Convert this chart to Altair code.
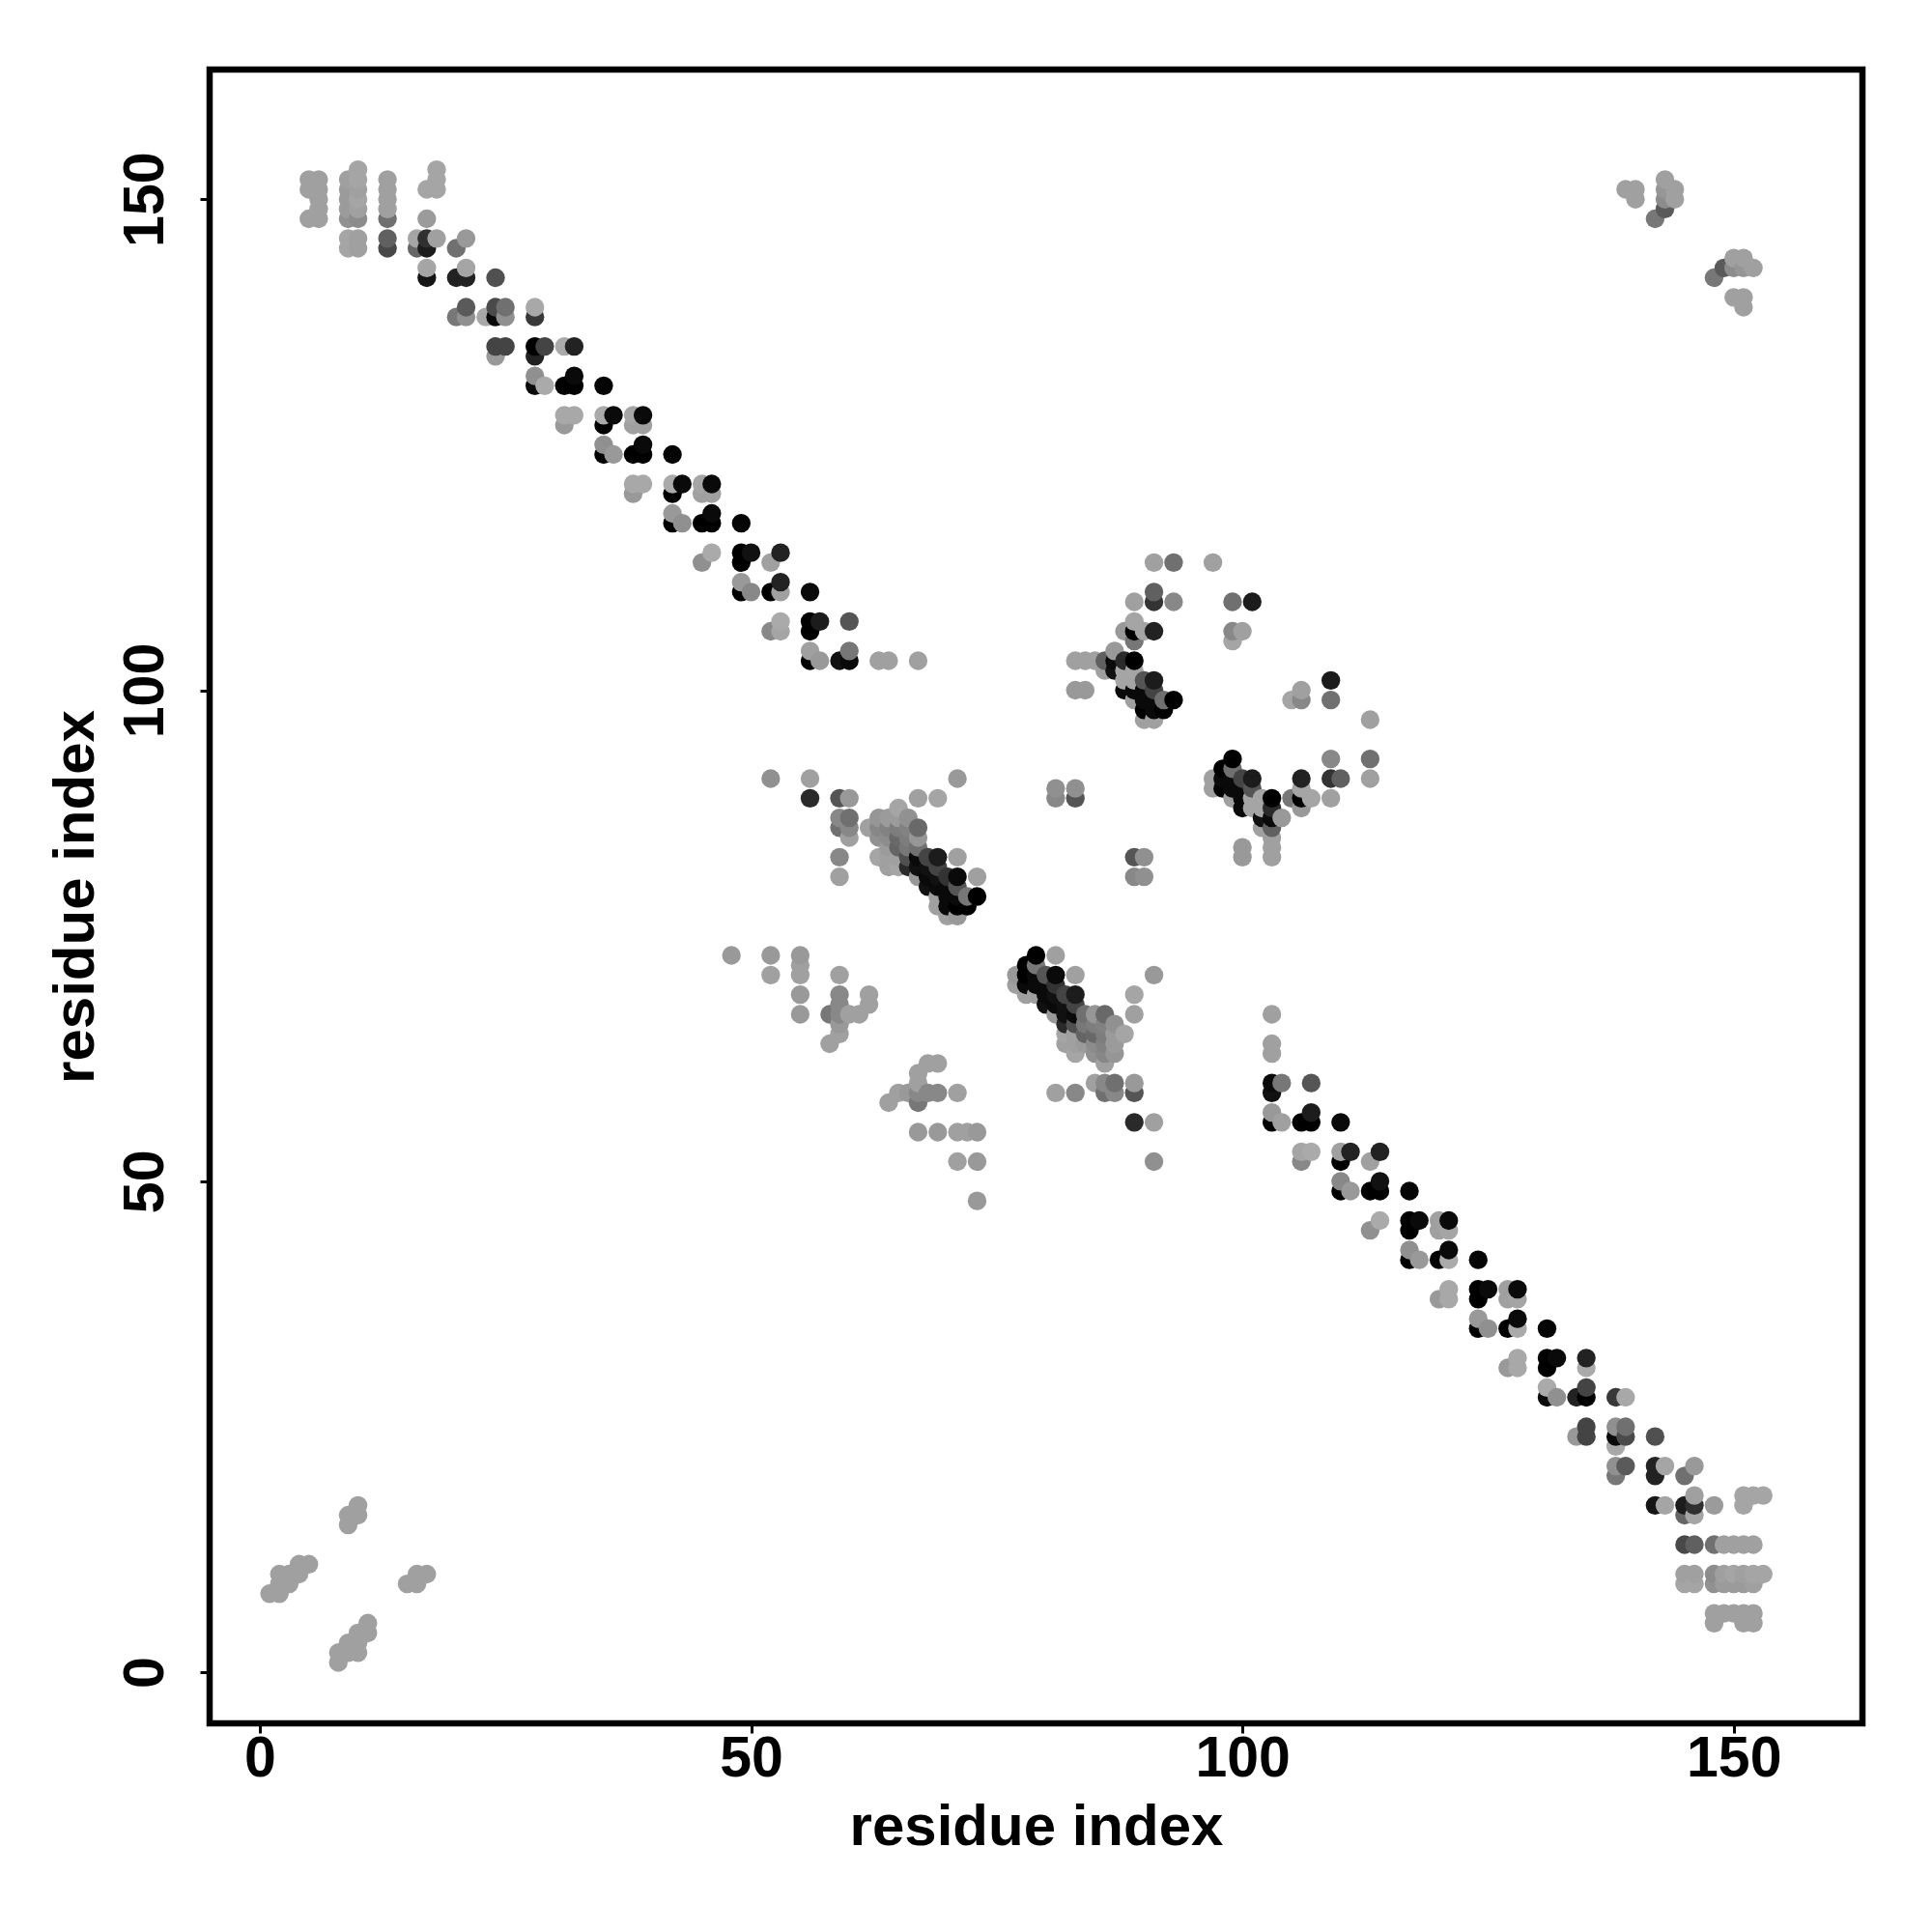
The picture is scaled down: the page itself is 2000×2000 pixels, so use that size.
import altair as alt
import pandas as pd

# (residue i, residue j, grey level 0-255) for i < j; the map is symmetric
corner_far = [
    (5,152,160),(5,151,160),(5,148,160),(6,152,160),(6,151,160),(6,150,160),(6,149,160),(6,148,160),
    (9,152,160),(9,151,155),(9,150,155),(9,149,155),(9,148,145),(9,146,165),(9,145,165),
    (10,153,165),(10,152,165),(10,151,160),(10,150,165),(10,149,160),(10,148,140),(10,146,160),(10,145,160),
    (13,152,160),(13,151,160),(13,150,160),(13,149,160),(13,148,112),(13,146,96),(13,145,72),
    (16,146,165),(16,145,102),(17,151,165),(17,148,155),(17,146,48),(17,145,28),(17,143,165),(17,142,21),
    (18,153,165),(18,152,165),(18,151,165),(18,146,160),
]
band_a = [
    (20,145,112),(20,142,34),(20,138,119),(21,146,153),(21,143,165),(21,142,34),(21,139,90),(21,138,144),
    (23,138,168),(24,142,80),(24,139,74),(24,138,10),(24,135,68),(24,134,153),(25,139,112),(25,138,144),(25,135,68),
    (28,139,168),(28,138,56),(28,135,0),(28,134,34),(28,132,144),(28,131,10),
    (29,135,68),(29,131,170),(31,135,170),(31,131,0),(31,128,168),(31,127,153),
    (32,135,34),(32,132,10),(32,131,0),(32,128,168),
]
band_b = [
    (35,131,5),(35,128,170),(35,127,0),(35,125,144),(35,124,0),(36,128,10),(36,124,153),
    (38,128,165),(38,127,160),(38,124,0),(38,121,168),(38,120,153),(39,128,10),(39,127,160),(39,125,10),(39,124,0),(39,121,168),
    (42,124,5),(42,121,170),(42,120,0),(42,118,153),(42,117,0),(43,121,10),(43,117,144),
    (45,121,165),(45,120,160),(45,117,0),(45,113,144),(46,121,10),(46,120,160),(46,118,10),(46,117,0),(46,114,170),
    (49,117,5),(49,114,0),(49,113,0),(49,111,153),(49,110,0),(50,114,17),(50,110,136),
    (52,113,160),(52,110,0),(52,106,136),(53,114,34),(53,111,34),(53,110,160),(53,107,170),(53,106,165),
    (56,110,10),(56,107,0),(56,106,0),(56,104,160),(56,103,0),(57,107,28),(57,103,153),
    (59,103,17),(60,107,85),(60,104,119),(60,103,10),(63,103,160),(64,103,160),(67,103,160),
]
loop_left = [
    (48,73,153),(52,73,153),(52,71,160),(55,73,153),(55,72,160),(55,71,160),(55,69,153),(55,67,153),
    (58,67,119),(58,64,160),(59,71,160),(59,69,136),(59,68,136),(59,67,136),(59,66,153),(59,65,160),
    (60,67,160),(61,67,160),(62,69,160),(62,68,160),
    (52,91,144),(56,91,160),(56,89,42),(59,89,85),(60,89,153),(59,87,136),(60,87,112),(59,86,112),(60,86,136),(60,85,160),
    (59,83,136),(59,81,160),(67,89,160),(69,89,165),(71,91,153),
]
cluster_mid = [
    (62,86,160),(63,87,150),(63,86,135),(63,85,145),(63,83,165),(64,87,155),(64,86,130),(64,85,140),(64,84,155),(64,83,160),(64,82,160),
    (65,88,165),(65,87,155),(65,86,125),(65,85,105),(65,84,100),(65,83,160),(65,82,165),
    (66,87,145),(66,86,130),(66,85,125),(66,84,120),(66,83,80),(66,82,42),
    (67,86,105),(67,85,150),(67,84,112),(67,83,10),(67,82,17),(67,81,153),
    (68,83,68),(68,82,17),(68,81,10),(68,80,17),(69,83,28),(69,82,68),(69,81,17),(69,80,10),(69,79,160),(69,78,160),
    (70,81,51),(70,80,10),(70,79,10),(70,78,10),(70,77,160),
    (71,83,160),(71,81,10),(71,80,85),(71,79,10),(71,78,0),(71,77,153),
    (72,79,119),(72,78,0),(73,81,160),(73,79,0),
]
cluster_upper = [
    (81,90,144),(81,89,136),(83,90,144),(83,89,85),
    (83,103,160),(84,103,160),(85,103,160),(83,100,153),(84,100,153),
    (86,103,96),(86,102,160),(87,104,153),(87,103,10),(87,102,17),
    (88,106,153),(88,103,42),(88,102,165),(88,101,165),(88,100,10),
    (89,109,160),(89,107,165),(89,106,0),(89,105,119),(89,103,0),(89,102,165),(89,101,165),(89,100,10),(89,99,160),
    (90,106,165),(90,101,85),(90,100,10),(90,99,10),(90,98,0),(90,97,160),
    (91,113,160),(91,110,96),(91,109,51),(91,106,34),(91,101,28),(91,100,68),(91,99,10),(91,98,10),(91,97,160),
    (92,99,112),(92,98,0),(93,113,112),(93,109,136),(93,99,0),
    (97,113,160),(99,109,112),(99,106,136),(99,105,165),(100,106,160),(101,109,28),
]
corner_ends = [
    (1,8,160),(2,10,160),(2,9,160),(2,8,160),(3,10,160),(3,9,160),(4,11,160),(4,10,160),(5,11,160),
    (9,16,160),(9,15,160),(10,17,160),(10,16,160),
    (139,151,160),(140,151,160),(140,150,160),(142,148,119),(143,152,160),(143,151,150),(143,150,140),(143,149,90),(144,151,160),(144,150,160),
]
regions = [corner_far, band_a, band_b, loop_left, cluster_mid, cluster_upper, corner_ends]

rows = {}
for region in regions:
    for a, b, g in region:
        rows[(a, b)] = g
        rows[(b, a)] = g
ordered = sorted(rows)
df = pd.DataFrame({
    "i": [k[0] for k in ordered],
    "j": [k[1] for k in ordered],
    "grey": ["#{0:02x}{0:02x}{0:02x}".format(rows[k]) for k in ordered],
})

FONT = "Liberation Sans"
x_ticks = [0, 50, 100, 150]
y_ticks = [0, 50, 100, 150]

chart = (
    alt.Chart(df)
    .mark_circle(size=375, opacity=1)
    .encode(
        x=alt.X("i:Q", scale=alt.Scale(domain=[-5.1, 163.1], nice=False, zero=False),
                axis=alt.Axis(title="residue index", values=x_ticks, grid=False, domain=False,
                              tickColor="black", tickSize=10, tickWidth=3,
                              labelFont=FONT, labelFontWeight="bold", labelFontSize=59, labelColor="black",
                              labelPadding=-3, labelFlush=False,
                              titleFont=FONT, titleFontWeight="bold", titleFontSize=60, titleColor="black",
                              titlePadding=12)),
        y=alt.Y("j:Q", scale=alt.Scale(domain=[-5.2, 163.2], nice=False, zero=False),
                axis=alt.Axis(title="residue index", values=y_ticks, grid=False, domain=False,
                              tickColor="black", tickSize=10, tickWidth=3,
                              labelFont=FONT, labelFontWeight="bold", labelFontSize=59, labelColor="black",
                              labelAngle=270, labelAlign="center", labelBaseline="bottom",
                              labelPadding=27, labelFlush=False,
                              titleFont=FONT, titleFontWeight="bold", titleFontSize=60, titleColor="black",
                              titlePadding=12)),
        color=alt.Color("grey:N", scale=None, legend=None),
        order=alt.Order("row:Q"),
    )
    .transform_window(row="row_number()")
    .properties(width=1711, height=1712, autosize="none", background="white",
                padding={"left": 209, "top": 64, "right": 60, "bottom": 200})
    .configure_view(stroke="black", strokeWidth=6.5, fill="white")
)

chart.save("out.html", embed_options={"renderer": "svg", "actions": False})
